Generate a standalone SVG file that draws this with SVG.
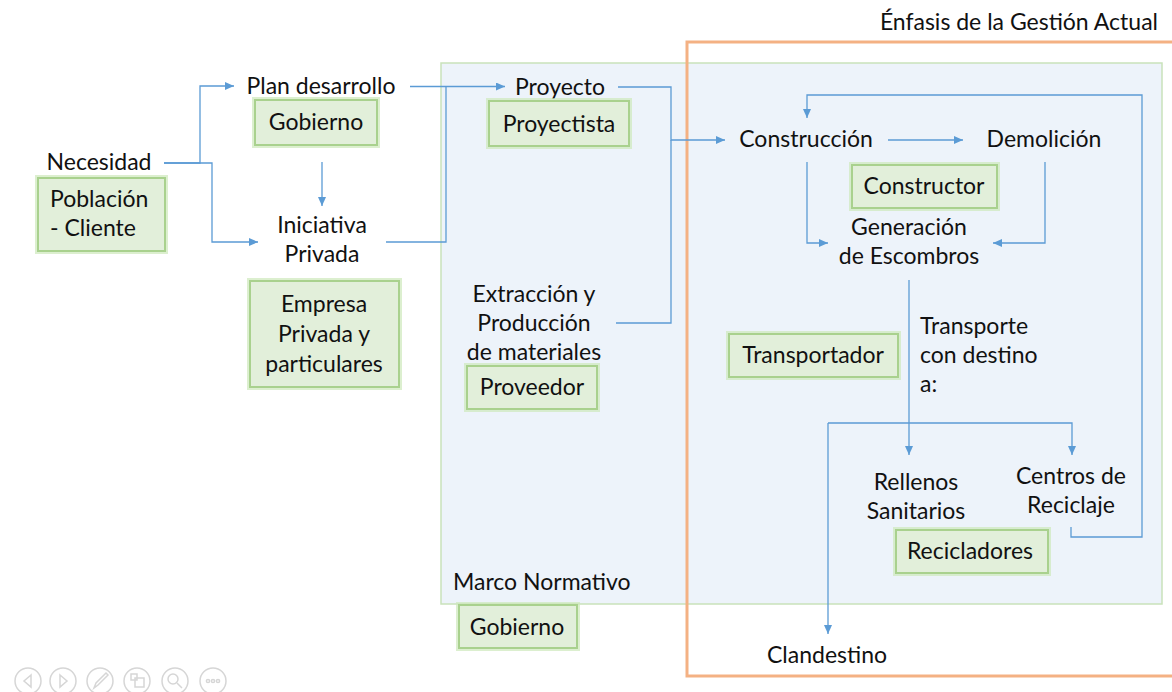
<svg xmlns="http://www.w3.org/2000/svg" width="1172" height="692" viewBox="0 0 1172 692">
<style>
.t{font-family:Lato,"Open Sans","Liberation Sans",sans-serif;font-size:23px;fill:#111;}
.m{text-anchor:middle;}
.box{fill:#E2EFDA;stroke:#A9D18E;stroke-width:2;}
.halo{fill:none;stroke:#CDE8BA;stroke-width:6;opacity:0.7;}
.c{fill:none;stroke:#5B9BD5;stroke-width:1.3;}
.ic{fill:none;stroke:#D6D6D6;stroke-width:1.5;}
</style>
<defs>
<marker id="ah" markerUnits="userSpaceOnUse" markerWidth="9" markerHeight="8" refX="9" refY="4" orient="auto">
<path d="M0,0 L9,4 L0,8 z" fill="#5B9BD5"/>
</marker>
</defs>
<rect width="1172" height="692" fill="#FFFFFF"/>
<g id="marco-panel">
<rect x="441" y="63" width="721" height="541" fill="#EDF3FA" stroke="#C9E2BA" stroke-width="1.5"/>
</g>
<g id="enfasis-frame">
<rect x="687" y="42" width="520" height="634" fill="none" stroke="#F4B183" stroke-width="3"/>
<text class="t" x="1158" y="30" text-anchor="end">Énfasis de la Gestión Actual</text>
</g>
<g id="connectors">
<path class="c" d="M164,163 H200 V86 H234" marker-end="url(#ah)"/>
<path class="c" d="M164,163 H212 V242 H258" marker-end="url(#ah)"/>
<path class="c" d="M322,162 V206" marker-end="url(#ah)"/>
<path class="c" d="M410,86.5 H505" marker-end="url(#ah)"/>
<path class="c" d="M386,242 H446 V86.5"/>
<path class="c" d="M618,87 H671 V140 H725" marker-end="url(#ah)"/>
<path class="c" d="M616,323 H671 V140"/>
<path class="c" d="M888,140 H963" marker-end="url(#ah)"/>
<path class="c" d="M1071,527 V537 H1142 V95 H807 V118" marker-end="url(#ah)"/>
<path class="c" d="M807,162 V243 H828" marker-end="url(#ah)"/>
<path class="c" d="M1045,162 V243 H993" marker-end="url(#ah)"/>
<path class="c" d="M909,280 V455" marker-end="url(#ah)"/>
<path class="c" d="M828,423 H1072 V455" marker-end="url(#ah)"/>
<path class="c" d="M828,423 V634" marker-end="url(#ah)"/>
</g>
<g id="necesidad">
<text class="t m" x="99" y="170">Necesidad</text>
<rect class="halo" x="38" y="178" width="127" height="73"/>
<rect class="box" x="38" y="178" width="127" height="73"/>
<text class="t" x="50" y="207">Población</text>
<text class="t" x="50" y="236">- Cliente</text>
</g>
<g id="plan-desarrollo">
<text class="t m" x="321" y="94">Plan desarrollo</text>
<rect class="halo" x="255" y="100" width="122" height="45"/>
<rect class="box" x="255" y="100" width="122" height="45"/>
<text class="t m" x="316" y="130">Gobierno</text>
</g>
<g id="iniciativa-privada">
<text class="t m" x="322" y="233">Iniciativa</text>
<text class="t m" x="322" y="262">Privada</text>
<rect class="halo" x="250" y="281" width="149" height="106"/>
<rect class="box" x="250" y="281" width="149" height="106"/>
<text class="t m" x="324" y="312">Empresa</text>
<text class="t m" x="324" y="342">Privada y</text>
<text class="t m" x="324" y="372">particulares</text>
</g>
<g id="proyecto">
<text class="t m" x="560" y="95">Proyecto</text>
<rect class="halo" x="489" y="101" width="140" height="45"/>
<rect class="box" x="489" y="101" width="140" height="45"/>
<text class="t m" x="559" y="132">Proyectista</text>
</g>
<g id="extraccion">
<text class="t m" x="534" y="302">Extracción y</text>
<text class="t m" x="534" y="331">Producción</text>
<text class="t m" x="534" y="360">de materiales</text>
<rect class="halo" x="467" y="366" width="130" height="43"/>
<rect class="box" x="467" y="366" width="130" height="43"/>
<text class="t m" x="532" y="395">Proveedor</text>
</g>
<g id="construccion">
<text class="t m" x="806" y="147">Construcción</text>
</g>
<g id="demolicion">
<text class="t m" x="1044" y="147">Demolición</text>
</g>
<g id="constructor">
<rect class="halo" x="852" y="165" width="145" height="43"/>
<rect class="box" x="852" y="165" width="145" height="43"/>
<text class="t m" x="924" y="194">Constructor</text>
</g>
<g id="generacion">
<text class="t m" x="909" y="235">Generación</text>
<text class="t m" x="909" y="264">de Escombros</text>
</g>
<g id="transportador">
<rect class="halo" x="729" y="334" width="169" height="43"/>
<rect class="box" x="729" y="334" width="169" height="43"/>
<text class="t m" x="813" y="363">Transportador</text>
</g>
<g id="transporte">
<text class="t" x="920" y="334">Transporte</text>
<text class="t" x="920" y="363">con destino</text>
<text class="t" x="920" y="392">a:</text>
</g>
<g id="rellenos">
<text class="t m" x="916" y="490">Rellenos</text>
<text class="t m" x="916" y="519">Sanitarios</text>
</g>
<g id="centros-reciclaje">
<text class="t m" x="1071" y="484">Centros de</text>
<text class="t m" x="1071" y="513">Reciclaje</text>
</g>
<g id="recicladores">
<rect class="halo" x="896" y="530" width="152" height="43"/>
<rect class="box" x="896" y="530" width="152" height="43"/>
<text class="t m" x="970" y="559">Recicladores</text>
</g>
<g id="marco-normativo">
<text class="t" x="453" y="590">Marco Normativo</text>
<rect class="halo" x="459" y="605" width="118" height="43"/>
<rect class="box" x="459" y="605" width="118" height="43"/>
<text class="t m" x="517" y="635">Gobierno</text>
</g>
<g id="clandestino">
<text class="t m" x="827" y="663">Clandestino</text>
</g>
<g id="slide-controls">
<circle class="ic" cx="28" cy="681" r="13"/>
<path class="ic" d="M31,675 L24,681 L31,687 z"/>
<circle class="ic" cx="63" cy="681" r="13"/>
<path class="ic" d="M60,675 L67,681 L60,687 z"/>
<circle class="ic" cx="100" cy="681" r="13"/>
<path class="ic" d="M94,688 L96,683 L106,673 L108,675 L98,685 z"/>
<circle class="ic" cx="137" cy="681" r="13"/>
<rect class="ic" x="131" y="674" width="6" height="6"/>
<rect class="ic" x="135" y="678" width="9" height="9"/>
<circle class="ic" cx="175" cy="681" r="13"/>
<circle class="ic" cx="173" cy="679" r="5"/>
<path class="ic" d="M177,683 L182,688"/>
<circle class="ic" cx="213" cy="681" r="13"/>
<circle class="ic" cx="208" cy="681" r="1.6"/>
<circle class="ic" cx="213" cy="681" r="1.6"/>
<circle class="ic" cx="218" cy="681" r="1.6"/>
</g>
</svg>
